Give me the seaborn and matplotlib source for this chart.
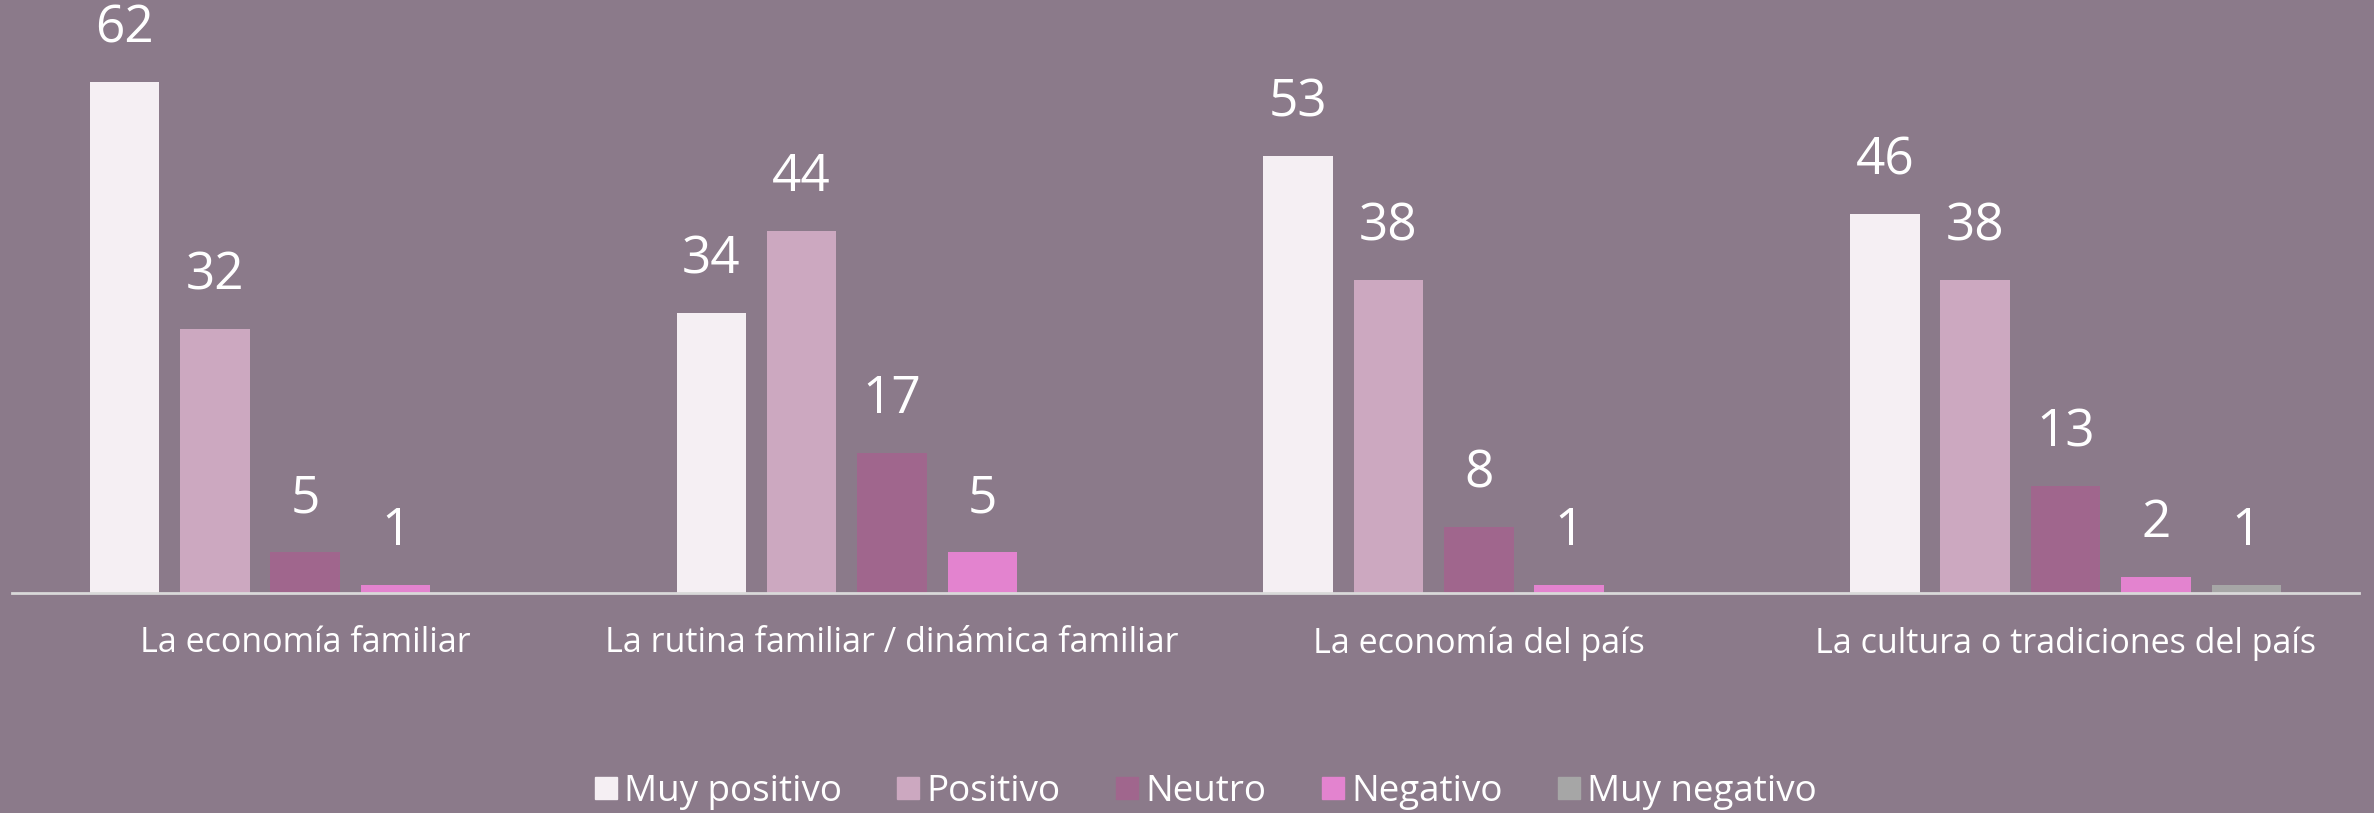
#!/usr/bin/env python3

import numpy as np
import pandas as pd
import matplotlib
matplotlib.use("Agg")
import matplotlib.pyplot as plt
import seaborn as sns

# *** Datos del grafico ***
categorias = ["La economía familiar",
              "La rutina familiar / dinámica familiar",
              "La economía del país",
              "La cultura o tradiciones del país"]
respuestas = ["Muy positivo", "Positivo", "Neutro", "Negativo", "Muy negativo"]

muy_positivo = [62, 34, 53, 46]
positivo = [32, 44, 38, 38]
neutro = [5, 17, 8, 13]
negativo = [1, 5, 1, 2]
muy_negativo = [None, None, None, 1]

colores = ["#F5EFF3", "#CCA8C0", "#A0668D", "#E383CF", "#A6A6A6"]
fondo = "#8B7A8A"


def main():
    series = [muy_positivo, positivo, neutro, negativo, muy_negativo]
    filas = []
    for resp, vals in zip(respuestas, series):
        for cat, v in zip(categorias, vals):
            if v is not None:
                filas.append({"categoria": cat, "respuesta": resp, "valor": v})
    df = pd.DataFrame(filas)

    sns.set_style("white")
    plt.rcParams["font.family"] = ["Open Sans", "DejaVu Sans"]

    fig = plt.figure(figsize=(23.74, 8.13), dpi=100, facecolor=fondo)
    ax = fig.add_axes([0.005, 0.2706, 0.9887, 0.7294])
    ax.set_facecolor(fondo)

    sns.barplot(data=df, x="categoria", y="valor", hue="respuesta",
                order=categorias, hue_order=respuestas, palette=colores,
                width=0.77, gap=0.23, saturation=1, legend=False,
                linewidth=0, edgecolor="none", ax=ax)

    for c in ax.containers:
        ax.bar_label(c, fmt="%g", padding=20, color="white", fontsize=37)

    ax.set_xlim(-0.5, 3.5)
    ax.set_ylim(0, 72)
    ax.set_xlabel("")
    ax.set_ylabel("")
    ax.set_yticks([])
    ax.tick_params(axis="x", length=0, pad=24, labelsize=24.5, labelcolor="white")
    for s in ["top", "right", "left"]:
        ax.spines[s].set_visible(False)
    ax.spines["bottom"].set_color("#D9D9D9")
    ax.spines["bottom"].set_linewidth(2)

    handles = [plt.Line2D([], [], marker="s", linestyle="", markersize=16,
                          markerfacecolor=col, markeredgecolor=col)
               for col in colores]
    fig.legend(handles, respuestas, loc="center", bbox_to_anchor=(0.508, 0.026),
               ncol=5, frameon=False, fontsize=26.5, labelcolor="white",
               handlelength=0.6, handletextpad=0.2, columnspacing=1.5)

    fig.savefig("out.png", dpi=100, facecolor=fondo)


if __name__ == "__main__":
    main()
